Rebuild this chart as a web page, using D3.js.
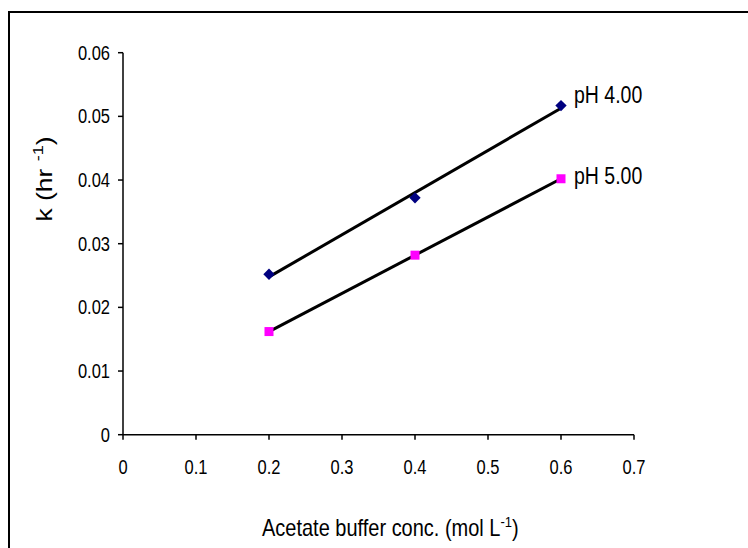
<!DOCTYPE html>
<html><head><meta charset="utf-8">
<script src="https://cdn.jsdelivr.net/npm/d3@7"></script>
<style>
html,body{margin:0;padding:0;background:#fff;}
text{font-family:"Liberation Sans",Arial,sans-serif;fill:#000;}
</style></head>
<body>
<svg id="chart" width="748" height="548"></svg>
<script>
const concentrations = [0.2, 0.4, 0.6];
const kPH4 = [0.0252, 0.0372, 0.0517];
const kPH5 = [0.0162, 0.0282, 0.0402];
const seriesNames = ["pH 4.00", "pH 5.00"];
const xTicks = [0, 0.1, 0.2, 0.3, 0.4, 0.5, 0.6, 0.7];
const yTicks = [0, 0.01, 0.02, 0.03, 0.04, 0.05, 0.06];

const svg = d3.select("#chart");
const sy = 1.2; // vertical stretch of the original picture

// outer frame
svg.append("path").attr("d","M9,548 V12 H748").attr("fill","none").attr("stroke","#000").attr("stroke-width",2);

const x = d3.scaleLinear().domain([0,0.7]).range([123,634]);
const y = d3.scaleLinear().domain([0,0.06]).range([434.7,52.7]);

// axes
const ax = svg.append("g");
ax.append("line").attr("x1",x(0)).attr("x2",x(0.7)).attr("y1",y(0)).attr("y2",y(0)).attr("stroke","#000").attr("stroke-width",1.5);
ax.append("line").attr("x1",x(0)).attr("x2",x(0)).attr("y1",y(0)).attr("y2",y(0.06)).attr("stroke","#000").attr("stroke-width",1.5);
xTicks.forEach(t=>{
  ax.append("line").attr("x1",x(t)).attr("x2",x(t)).attr("y1",y(0)).attr("y2",y(0)+5).attr("stroke","#000").attr("stroke-width",1.5);
  ax.append("text").attr("transform",`translate(${x(t)},474) scale(1,${sy})`).attr("text-anchor","middle").attr("font-size",16.5).text(String(t));
});
yTicks.forEach(t=>{
  ax.append("line").attr("x1",x(0)-5).attr("x2",x(0)).attr("y1",y(t)).attr("y2",y(t)).attr("stroke","#000").attr("stroke-width",1.5);
  ax.append("text").attr("transform",`translate(110,${y(t)+7}) scale(1,${sy})`).attr("text-anchor","end").attr("font-size",16.5).text(String(t));
});

// axis titles
const xt = svg.append("text").attr("transform",`translate(262,536) scale(1,1.18)`).attr("font-size",20);
xt.append("tspan").text("Acetate buffer conc. (mol L");
xt.append("tspan").attr("font-size",13).attr("dy",-8).text("-1");
xt.append("tspan").attr("dy",8).text(")");

const yt = svg.append("text").attr("transform",`translate(52,179) scale(1,${sy}) rotate(-90)`).attr("text-anchor","middle").attr("font-size",22);
yt.append("tspan").text("k (hr ");
yt.append("tspan").attr("font-size",15).attr("dy",-9).text(" -1");
yt.append("tspan").attr("dy",9).text(")");

// regression trend lines
function fit(xs, ys){
  const mx=d3.mean(xs), my=d3.mean(ys);
  const b=d3.sum(xs.map((v,i)=>(v-mx)*(ys[i]-my)))/d3.sum(xs.map(v=>(v-mx)*(v-mx)));
  return v=> my + b*(v-mx);
}
[kPH4,kPH5].forEach(ys=>{
  const f=fit(concentrations,ys);
  const x0=d3.min(concentrations), x1=d3.max(concentrations);
  svg.append("line").attr("x1",x(x0)).attr("y1",y(f(x0))).attr("x2",x(x1)).attr("y2",y(f(x1)))
    .attr("stroke","#000").attr("stroke-width",3);
});

// markers
svg.append("g").selectAll("path").data(concentrations.map((c,i)=>[c,kPH4[i]])).join("path")
  .attr("d",d3.symbol(d3.symbolSquare, 64))
  .attr("transform",d=>`translate(${x(d[0])},${y(d[1])}) rotate(45)`)
  .attr("fill","#000080");
svg.append("g").selectAll("rect").data(concentrations.map((c,i)=>[c,kPH5[i]])).join("rect")
  .attr("x",d=>x(d[0])-4.5).attr("y",d=>y(d[1])-4.5).attr("width",9).attr("height",9)
  .attr("fill","#FF00FF");

// series labels
[[seriesNames[0],103],[seriesNames[1],184]].forEach(([name,by])=>{
  svg.append("text").attr("transform",`translate(574,${by}) scale(1,1.18)`).attr("font-size",19.5).text(name);
});
</script>
</body></html>
